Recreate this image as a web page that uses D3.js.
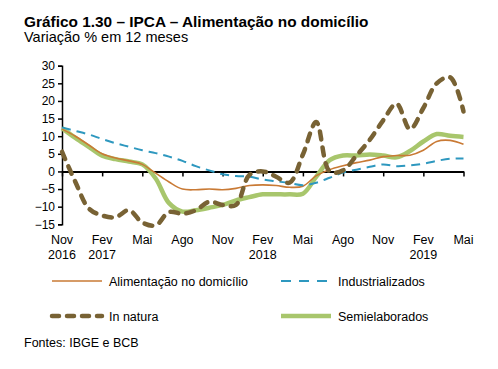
<!DOCTYPE html>
<html><head><meta charset="utf-8">
<script src="https://cdn.jsdelivr.net/npm/d3@7"></script>
<style>body{margin:0;background:#fff}svg{font-family:"Liberation Sans",Arial,sans-serif}</style>
</head><body><svg id="c" width="498" height="369"></svg>
<script>
const months = ["Nov 2016","Dez","Jan","Fev 2017","Mar","Abr","Mai","Jun","Jul","Ago","Set","Out","Nov","Dez","Jan","Fev 2018","Mar","Abr","Mai","Jun","Jul","Ago","Set","Out","Nov","Dez","Jan","Fev 2019","Mar","Abr","Mai"];
const alimentacao = [12,10,7.5,5,3.8,3,2,-0.5,-3,-5,-5.2,-5,-5.2,-4.8,-4,-3.8,-4,-4.5,-4.2,-1.2,0.5,1.6,2.5,3.2,4.2,4.5,4.6,6,8.5,8.8,7.7];
const industrializados = [12.5,11.5,10.5,9.2,8,7,6,5.2,4.2,3,1.5,0.3,-0.8,-1.3,-1.5,-2.3,-2.8,-3.3,-3.9,-3.2,-1.8,-0.3,0.5,1.3,2,1.5,1.7,2.2,3,3.6,3.7];
const inNatura = [5.6,-3,-10.5,-12.5,-13,-11,-14.5,-15.3,-11.5,-12,-11,-8.6,-9.5,-9.5,-1,0,-1.5,-3.2,4.8,14,0,0.3,4.5,9,14.5,19.2,12,18,25,26.7,17];
const semielaborados = [12.3,9.5,7,4.5,3.5,2.8,2,-2,-9,-11.4,-11,-10.3,-9.5,-8.2,-7.3,-6.5,-6.5,-6.5,-6.3,-1.5,3.2,4.5,4.5,4.8,4.5,4,5.8,8.5,10.6,10.1,9.8];
const yTicks = [30,25,20,15,10,5,0,-5,-10,-15];
const xTickLabels = [["Nov","2016"],["Fev","2017"],["Mai",""],["Ago",""],["Nov",""],["Fev","2018"],["Mai",""],["Ago",""],["Nov",""],["Fev","2019"],["Mai",""]];

const svg = d3.select("#c");
const x = d3.scaleLinear().domain([0, months.length-1]).range([62, 463.5]);
const y = d3.scaleLinear().domain([-15, 30]).range([224.3, 65.7]);

svg.append("text").attr("x",24).attr("y",27).attr("font-size",15.4).attr("font-weight","bold").text("Gráfico 1.30 – IPCA – Alimentação no domicílio");
svg.append("text").attr("x",24).attr("y",42).attr("font-size",14.5).text("Variação % em 12 meses");

// y axis
const ya = svg.append("g").attr("transform","translate(62,0)")
  .call(d3.axisLeft(y).tickValues(yTicks).tickSize(4).tickPadding(3));
ya.select(".domain").attr("stroke","#000").attr("stroke-width",1.5);
ya.selectAll("text").attr("font-size",12).attr("fill","#000").attr("font-family","Liberation Sans, Arial, sans-serif");
ya.selectAll("line").attr("stroke","#000").attr("stroke-width",1.5);

// zero axis
const tickIdx = d3.range(0, months.length, 3);
const xa = svg.append("g").attr("transform",`translate(0,${y(0)})`)
  .call(d3.axisBottom(x).tickValues(tickIdx).tickSize(5).tickSizeOuter(0).tickFormat(""));
xa.select(".domain").attr("stroke","#000").attr("stroke-width",2);
xa.selectAll("line").attr("stroke","#000").attr("stroke-width",1.5);

const lab = svg.append("g");
tickIdx.forEach((d,i)=>{
  const t = lab.append("text").attr("x",x(d)).attr("y",244).attr("text-anchor","middle").attr("font-size",12.5);
  t.append("tspan").attr("x",x(d)).text(xTickLabels[i][0]);
  if (xTickLabels[i][1]) t.append("tspan").attr("x",x(d)).attr("dy",15).text(xTickLabels[i][1]);
});

const line = d3.line().x((d,i)=>x(i)).y(d=>y(d)).curve(d3.curveCatmullRom.alpha(0.5));
const series = [
  {data: semielaborados, color:"#A8C66C", w:4.5, dash:null, cap:"butt"},
  {data: alimentacao, color:"#C97A35", w:1.6, dash:null, cap:"butt"},
  {data: industrializados, color:"#2E98BF", w:2, dash:"9,6", cap:"butt"},
  {data: inNatura, color:"#786234", w:4.5, dash:"8,8", cap:"round"},
];
series.forEach(s=>{
  svg.append("path").attr("d", line(s.data)).attr("fill","none").attr("stroke",s.color)
    .attr("stroke-width",s.w).attr("stroke-dasharray",s.dash).attr("stroke-linecap",s.cap).attr("stroke-linejoin","round");
});

// legend
const leg = [
  {name:"Alimentação no domicílio", color:"#C97A35", w:1.6, dash:null, cap:"butt", lx:50, ly:281},
  {name:"Industrializados", color:"#2E98BF", w:2, dash:"10,8", cap:"butt", lx:279, ly:281},
  {name:"In natura", color:"#786234", w:4.5, dash:"7,8", cap:"round", lx:50, ly:316},
  {name:"Semielaborados", color:"#A8C66C", w:4.5, dash:null, cap:"butt", lx:279, ly:316},
];
leg.forEach(l=>{
  svg.append("line").attr("x1",l.lx+2).attr("x2",l.lx+52).attr("y1",l.ly).attr("y2",l.ly)
    .attr("stroke",l.color).attr("stroke-width",l.w).attr("stroke-dasharray",l.dash).attr("stroke-linecap",l.cap);
  svg.append("text").attr("x",l.lx+59).attr("y",l.ly+4.5).attr("font-size",12.5).text(l.name);
});
svg.append("text").attr("x",24).attr("y",347).attr("font-size",12.5).text("Fontes: IBGE e BCB");
</script></body></html>
